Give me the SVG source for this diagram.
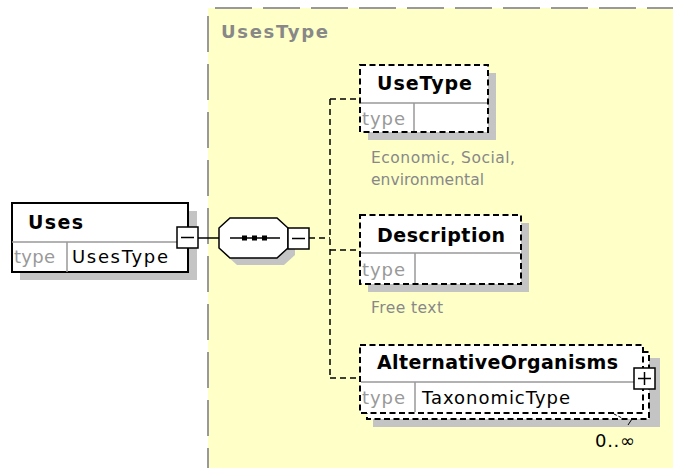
<svg xmlns="http://www.w3.org/2000/svg" width="673" height="468" viewBox="0 0 673 468">
  <style>
    text { font-family: "DejaVu Sans", "Liberation Sans", sans-serif; }
    .title { font-size: 19px; font-weight: bold; fill: #000; }
    .tlabel { font-size: 18px; fill: #999; }
    .tname { font-size: 18px; fill: #000; }
    .note { font-size: 15.5px; fill: #888; }
    .shadow { fill: #c4c4c4; stroke: none; }
    .solidbox { fill: #fff; stroke: #000; stroke-width: 2; }
    .dashbox { fill: #fff; stroke: #000; stroke-width: 2; stroke-dasharray: 6 3.5; }
    .divider { stroke: #999; stroke-width: 1.5; fill: none; }
    .conn { stroke: #000; stroke-width: 1.5; fill: none; }
    .dconn { stroke: #000; stroke-width: 1.5; fill: none; stroke-dasharray: 6 4; }
    .toggle { fill: #fff; stroke: #000; stroke-width: 1.5; }
  </style>

  <rect width="673" height="468" fill="#fff"/>

  <!-- complex type area -->
  <g id="UsesType">
    <rect x="208" y="8" width="465" height="460" fill="#ffffc8"/>
    <line x1="215" y1="8" x2="673" y2="8" stroke="#999" stroke-width="2" stroke-dasharray="37 11"/>
    <line x1="208" y1="16" x2="208" y2="468" stroke="#999" stroke-width="2" stroke-dasharray="36 12"/>
    <text x="221" y="38" font-size="18" font-weight="bold" fill="#888" textLength="107" lengthAdjust="spacing">UsesType</text>
  </g>

  <!-- connectors -->
  <g id="connectors">
    <line class="conn" x1="198" y1="238" x2="219" y2="238"/>
    <line class="dconn" x1="309" y1="238" x2="330" y2="238"/>
    <line class="dconn" x1="330" y1="99" x2="330" y2="378"/>
    <line class="dconn" x1="330" y1="99" x2="360" y2="99"/>
    <line class="dconn" x1="330" y1="250" x2="360" y2="250"/>
    <line class="dconn" x1="330" y1="378" x2="360" y2="378"/>
  </g>

  <!-- root element -->
  <g id="Uses">
    <rect class="shadow" x="20" y="211" width="177" height="69"/>
    <rect class="solidbox" x="12" y="203" width="176" height="69"/>
    <line class="divider" x1="12" y1="242" x2="188" y2="242"/>
    <line class="divider" x1="67" y1="242" x2="67" y2="272"/>
    <text class="title" x="28" y="229" textLength="55" lengthAdjust="spacing">Uses</text>
    <text class="tlabel" x="14" y="263" textLength="41" lengthAdjust="spacing">type</text>
    <text class="tname" x="72" y="263" textLength="96" lengthAdjust="spacing">UsesType</text>
    <rect class="toggle" x="177" y="227" width="21" height="21"/>
    <line class="conn" x1="181" y1="237.5" x2="194" y2="237.5"/>
  </g>

  <!-- sequence compositor -->
  <g id="sequence">
    <polygon class="shadow" points="237,225 284,225 295,235 295,255 284,265 237,265 226,255 226,235"/>
    <polygon fill="#fff" stroke="#000" stroke-width="1.5" points="230,218 277,218 288,228 288,248 277,258 230,258 219,248 219,228"/>
    <line class="conn" x1="230" y1="238" x2="280" y2="238"/>
    <rect x="242" y="235.5" width="5" height="5" fill="#000"/>
    <rect x="252" y="235.5" width="5" height="5" fill="#000"/>
    <rect x="262" y="235.5" width="5" height="5" fill="#000"/>
    <rect class="toggle" x="288" y="228" width="21" height="21"/>
    <line class="conn" x1="292" y1="238.5" x2="305" y2="238.5"/>
  </g>

  <g id="UseType">
    <rect class="shadow" x="368" y="73" width="128" height="67"/>
    <rect class="dashbox" x="360" y="65" width="128" height="67"/>
    <line class="divider" x1="361" y1="103" x2="487" y2="103"/>
    <line class="divider" x1="414" y1="103" x2="414" y2="131"/>
    <text class="title" x="377" y="90" textLength="95" lengthAdjust="spacing">UseType</text>
    <text class="tlabel" x="362" y="125" textLength="43" lengthAdjust="spacing">type</text>
    <text class="note" x="371" y="163" textLength="144" lengthAdjust="spacing">Economic, Social,</text>
    <text class="note" x="371" y="185" textLength="113" lengthAdjust="spacing">environmental</text>
  </g>

  <g id="Description">
    <rect class="shadow" x="368" y="223" width="161" height="69"/>
    <rect class="dashbox" x="360" y="215" width="161" height="69"/>
    <line class="divider" x1="361" y1="253" x2="520" y2="253"/>
    <line class="divider" x1="415" y1="253" x2="415" y2="283"/>
    <text class="title" x="377" y="242" textLength="128" lengthAdjust="spacing">Description</text>
    <text class="tlabel" x="362" y="276" textLength="43" lengthAdjust="spacing">type</text>
    <text class="note" x="371" y="313" textLength="72" lengthAdjust="spacing">Free text</text>
  </g>

  <g id="AlternativeOrganisms">
    <rect class="shadow" x="373" y="358" width="287" height="69"/>
    <rect class="dashbox" x="367" y="352" width="282" height="67"/>
    <rect class="dashbox" x="360" y="345" width="283" height="68"/>
    <line class="divider" x1="361" y1="382" x2="642" y2="382"/>
    <line class="divider" x1="415" y1="382" x2="415" y2="412"/>
    <text class="title" x="377" y="369" textLength="241" lengthAdjust="spacing">AlternativeOrganisms</text>
    <text class="tlabel" x="362" y="404" textLength="43" lengthAdjust="spacing">type</text>
    <text class="tname" x="422" y="404" textLength="148" lengthAdjust="spacing">TaxonomicType</text>
    <rect class="toggle" x="634" y="368" width="21" height="21"/>
    <line class="conn" x1="638" y1="378.5" x2="651" y2="378.5"/>
    <line class="conn" x1="644.5" y1="372" x2="644.5" y2="385"/>
    <polyline fill="none" stroke="#000" stroke-width="1" stroke-dasharray="3 2" points="614,414 624,419"/>
    <line stroke="#000" stroke-width="1" x1="632" y1="419" x2="628" y2="425"/>
    <text class="tname" x="595" y="447" textLength="40" lengthAdjust="spacing">0..∞</text>
  </g>
</svg>
